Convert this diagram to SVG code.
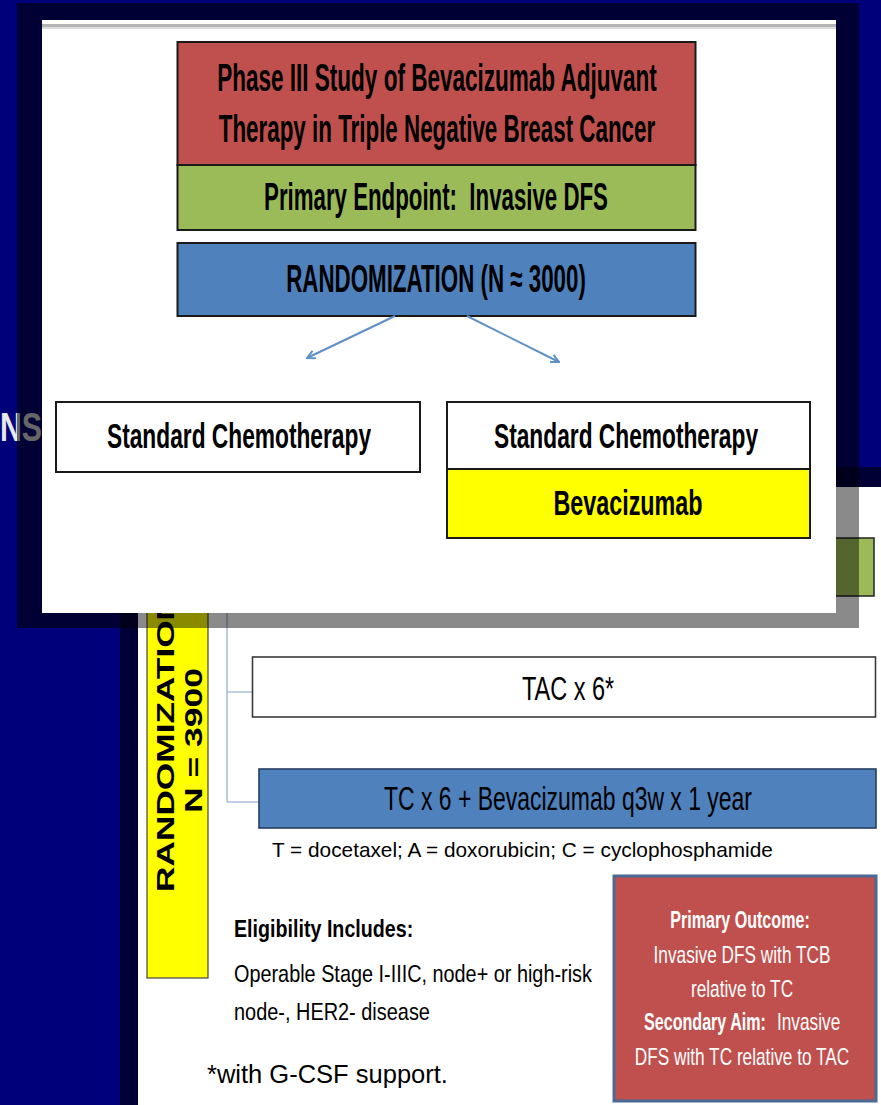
<svg xmlns="http://www.w3.org/2000/svg" width="881" height="1105" viewBox="0 0 881 1105">
<defs>
<style>
text{font-family:"Liberation Sans",Arial,sans-serif}
.b{font-weight:bold}
.c{text-anchor:middle}
.dk{fill:#000;fill-opacity:0.56}
.sh{fill:#000;fill-opacity:0.46}
.bx{stroke:#1a1a1a;stroke-width:2}
.conn{stroke:#a9c0de;stroke-width:1.6;fill:none}
.arr{stroke:#5f8fc9;stroke-width:2;fill:none}
.w{fill:#fff}
.k{fill:#000}
</style>
<marker id="chev" viewBox="0 0 10 10" refX="9" refY="5" markerWidth="10" markerHeight="10" markerUnits="userSpaceOnUse" orient="auto">
<path d="M1,1 L9,5 L1,9" fill="none" stroke="#5f8fc9" stroke-width="2"/>
</marker>
</defs>
<rect x="0" y="0" width="881" height="1105" fill="#00007a"/>
<text transform="translate(0,441) scale(0.755,1)" font-size="40" fill="#e8e8e8" class="b">NS</text>

<g id="back-slide">
<rect x="120" y="467" width="761" height="638" class="dk"/>
<rect x="138" y="487" width="743" height="618" fill="#fff"/>
</g>

<g id="back-connectors">
<path class="conn" d="M227,600 V802 M227,692 H252 M227,802 H259"/>
</g>

<g id="green-bar">
<rect x="620" y="538" width="254" height="58" fill="#9BBB59" stroke="#222" stroke-width="1.5"/>
</g>

<g id="randomization-bar">
<rect x="147" y="560" width="61" height="418" fill="#ffff00" stroke="#444" stroke-width="1.2"/>
<text transform="translate(174,892) rotate(-90) scale(1.47,1)" font-size="24" class="k b">RANDOMIZATION</text>
<text transform="translate(202,813) rotate(-90) scale(1.48,1)" font-size="24" class="k b">N = 3900</text>
</g>

<g id="tac-arm">
<rect x="252.5" y="657" width="623" height="60" fill="#fff" stroke="#3a3a3a" stroke-width="1.6"/>
<text transform="translate(568,700) scale(0.712,1)" font-size="33" class="c k">TAC x 6*</text>
</g>

<g id="tc-arm">
<rect x="259" y="769" width="617" height="59" fill="#4F81BD" stroke="#253f61" stroke-width="1.6"/>
<text transform="translate(568,810) scale(0.696,1)" font-size="33" class="c k">TC x 6 + Bevacizumab q3w x 1 year</text>
</g>

<g id="legend">
<text x="272" y="857" font-size="20.8" class="k">T = docetaxel; A = doxorubicin; C = cyclophosphamide</text>
</g>

<g id="eligibility">
<text transform="translate(234,937) scale(0.82,1)" font-size="24" class="b k">Eligibility Includes:</text>
<text transform="translate(234,982) scale(0.827,1)" font-size="24" class="k">Operable Stage I-IIIC, node+ or high-risk</text>
<text transform="translate(234,1020) scale(0.83,1)" font-size="24" class="k">node-, HER2- disease</text>
<text x="207" y="1083" font-size="25.5" class="k">*with G-CSF support.</text>
</g>

<g id="outcome-box">
<rect x="614" y="876" width="262" height="225" fill="#C0504D" stroke="#4a6994" stroke-width="3"/>
<text transform="translate(740,928) scale(0.70,1)" font-size="23" class="b c w">Primary Outcome:</text>
<text transform="translate(742,963) scale(0.75,1)" font-size="23" class="c w">Invasive DFS with TCB</text>
<text transform="translate(742,997) scale(0.75,1)" font-size="23" class="c w">relative to TC</text>
<text transform="translate(644,1030) scale(0.70,1)" font-size="23" class="b w">Secondary Aim:</text>
<text transform="translate(777,1030) scale(0.75,1)" font-size="23" class="w">Invasive</text>
<text transform="translate(742,1065) scale(0.75,1)" font-size="23" class="c w">DFS with TC relative to TAC</text>
</g>

<g id="front-slide">
<rect x="17" y="3" width="842" height="17" class="dk"/>
<rect x="17" y="20" width="25" height="608" class="dk"/>
<rect x="42" y="613" width="78" height="15" class="dk"/>
<rect x="120" y="613" width="18" height="15" class="sh"/>
<rect x="836" y="20" width="23" height="447" class="dk"/>
<rect x="836" y="467" width="23" height="20" class="sh"/>
<rect x="138" y="613" width="721" height="15" class="sh"/>
<rect x="836" y="487" width="23" height="126" class="sh"/>
<rect x="42" y="20" width="794" height="593" fill="#fff"/>
<rect x="42" y="24" width="794" height="3" fill="#b4b4b4"/>
<rect x="42" y="27" width="794" height="2" fill="#dcdcdc"/>
</g>

<g id="title-box">
<rect x="177.5" y="42" width="518" height="123" fill="#C0504D" class="bx"/>
<rect x="177.5" y="165" width="518" height="65" fill="#9BBB59" class="bx"/>
<text transform="translate(437,91) scale(0.593,1)" font-size="38" class="b c k">Phase III Study of Bevacizumab Adjuvant</text>
<text transform="translate(437,142) scale(0.589,1)" font-size="38" class="b c k">Therapy in Triple Negative Breast Cancer</text>
<text transform="translate(436,210) scale(0.586,1)" font-size="38" class="b c k" xml:space="preserve">Primary Endpoint:  Invasive DFS</text>
</g>

<g id="randomization-box">
<rect x="177.5" y="243" width="518" height="73" fill="#4F81BD" class="bx"/>
<text transform="translate(436,292) scale(0.588,1)" font-size="38" class="b c k">RANDOMIZATION (N ≈ 3000)</text>
</g>

<g id="connectors">
<line x1="395" y1="316" x2="307" y2="358" class="arr" marker-end="url(#chev)"/>
<line x1="467" y1="316" x2="559" y2="362" class="arr" marker-end="url(#chev)"/>
</g>

<g id="arm-standard">
<rect x="56" y="402" width="364" height="70" fill="#fff" class="bx"/>
<text transform="translate(239,448) scale(0.65,1)" font-size="35" class="b c k">Standard Chemotherapy</text>
</g>

<g id="arm-bevacizumab">
<rect x="447" y="402" width="363" height="67" fill="#fff" class="bx"/>
<rect x="447" y="469" width="363" height="69" fill="#ffff00" class="bx"/>
<text transform="translate(626,448) scale(0.65,1)" font-size="35" class="b c k">Standard Chemotherapy</text>
<text transform="translate(628,515) scale(0.648,1)" font-size="36" class="b c k">Bevacizumab</text>
</g>
</svg>
